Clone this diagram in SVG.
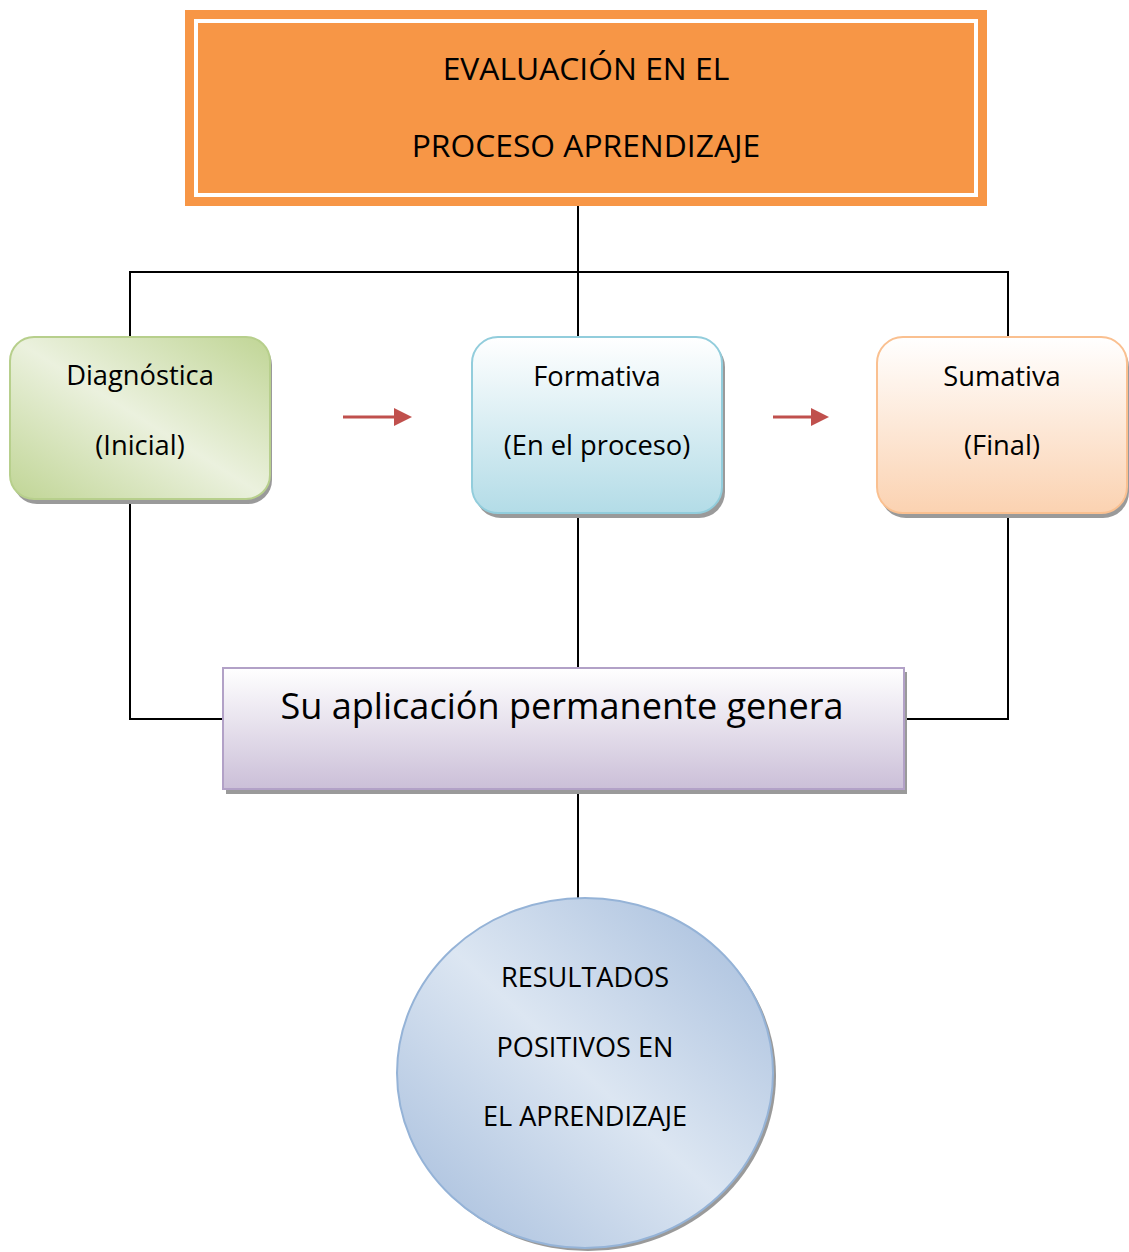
<svg xmlns="http://www.w3.org/2000/svg" width="1129" height="1252" viewBox="0 0 1129 1252">
<defs>
<style>
.t{font-family:"Open Sans","Noto Sans","DejaVu Sans",sans-serif;fill:#000;text-anchor:middle}
.ln{stroke:#000;stroke-width:2;fill:none}
.shadow{fill:#9a9a9a}
</style>
<linearGradient id="gGreen" x1="0" y1="1" x2="1" y2="0">
<stop offset="0" stop-color="#c0d595"/>
<stop offset="0.5" stop-color="#ebf1de"/>
<stop offset="1" stop-color="#c0d595"/>
</linearGradient>
<linearGradient id="gBlue" x1="0" y1="0" x2="0" y2="1">
<stop offset="0" stop-color="#ffffff"/>
<stop offset="1" stop-color="#b3dce7"/>
</linearGradient>
<linearGradient id="gOrange" x1="0" y1="0" x2="0" y2="1">
<stop offset="0" stop-color="#ffffff"/>
<stop offset="1" stop-color="#fbd2b1"/>
</linearGradient>
<linearGradient id="gPurple" x1="0" y1="0" x2="0" y2="1">
<stop offset="0" stop-color="#ffffff"/>
<stop offset="1" stop-color="#cbbfd8"/>
</linearGradient>
<linearGradient id="gCircle" x1="0" y1="1" x2="1" y2="0">
<stop offset="0" stop-color="#a3bbdb"/>
<stop offset="0.5" stop-color="#dce6f2"/>
<stop offset="1" stop-color="#a3bbdb"/>
</linearGradient>
<marker id="arr" markerWidth="6" markerHeight="6" refX="1" refY="3" orient="auto" markerUnits="strokeWidth">
<path d="M0,0 L6,3 L0,6 Z" fill="#c0504d"/>
</marker>
</defs>

<g id="connectors">
<line class="ln" x1="578" y1="206" x2="578" y2="337"/>
<polyline class="ln" points="130,337 130,272 1008,272 1008,337"/>
<polyline class="ln" points="130,498 130,719 224,719"/>
<line class="ln" x1="578" y1="513" x2="578" y2="668"/>
<polyline class="ln" points="1008,513 1008,719 905,719"/>
<line class="ln" x1="578" y1="790" x2="578" y2="898"/>
<line x1="343" y1="417" x2="397" y2="417" stroke="#c0504d" stroke-width="3" marker-end="url(#arr)"/>
<line x1="773" y1="417" x2="814" y2="417" stroke="#c0504d" stroke-width="3" marker-end="url(#arr)"/>
</g>

<g id="title">
<rect x="185" y="10" width="802" height="196" fill="#f79646"/>
<rect x="196" y="21" width="780" height="174" fill="none" stroke="#ffffff" stroke-width="4"/>
<text class="t" x="586" y="80" font-size="31.8">EVALUACIÓN EN EL</text>
<text class="t" x="586" y="157" font-size="31.8">PROCESO APRENDIZAJE</text>
</g>

<g id="diagnostica">
<rect class="shadow" x="13" y="341" width="259" height="163" rx="24"/>
<rect x="10" y="337" width="260" height="162" rx="24" fill="url(#gGreen)" stroke="#b7cf8c" stroke-width="2"/>
<text class="t" x="140" y="385" font-size="27.3">Diagnóstica</text>
<text class="t" x="140" y="455" font-size="27.3">(Inicial)</text>
</g>

<g id="formativa">
<rect class="shadow" x="475" y="341" width="250" height="177" rx="26"/>
<rect x="472" y="337" width="250" height="176" rx="26" fill="url(#gBlue)" stroke="#92cddc" stroke-width="2"/>
<text class="t" x="597" y="386" font-size="27.3">Formativa</text>
<text class="t" x="597" y="455" font-size="27.3">(En el proceso)</text>
</g>

<g id="sumativa">
<rect class="shadow" x="880" y="341" width="249" height="177" rx="26"/>
<rect x="877" y="337" width="250" height="176" rx="26" fill="url(#gOrange)" stroke="#fac090" stroke-width="2"/>
<text class="t" x="1002" y="386" font-size="27.3">Sumativa</text>
<text class="t" x="1002" y="455" font-size="27.3">(Final)</text>
</g>

<g id="aplicacion">
<rect class="shadow" x="226" y="672" width="681" height="122"/>
<rect x="223" y="668" width="681" height="121" fill="url(#gPurple)" stroke="#b2a1c7" stroke-width="2"/>
<text class="t" x="562" y="719" font-size="36.1">Su aplicación permanente genera</text>
</g>

<g id="resultados">
<ellipse class="shadow" cx="588" cy="1076" rx="188" ry="175"/>
<ellipse cx="585" cy="1073" rx="188" ry="175" fill="url(#gCircle)" stroke="#95b3d7" stroke-width="2"/>
<text class="t" x="585" y="987" font-size="27.1">RESULTADOS</text>
<text class="t" x="585" y="1057" font-size="27.1">POSITIVOS EN</text>
<text class="t" x="585" y="1126" font-size="27.1">EL APRENDIZAJE</text>
</g>
</svg>
